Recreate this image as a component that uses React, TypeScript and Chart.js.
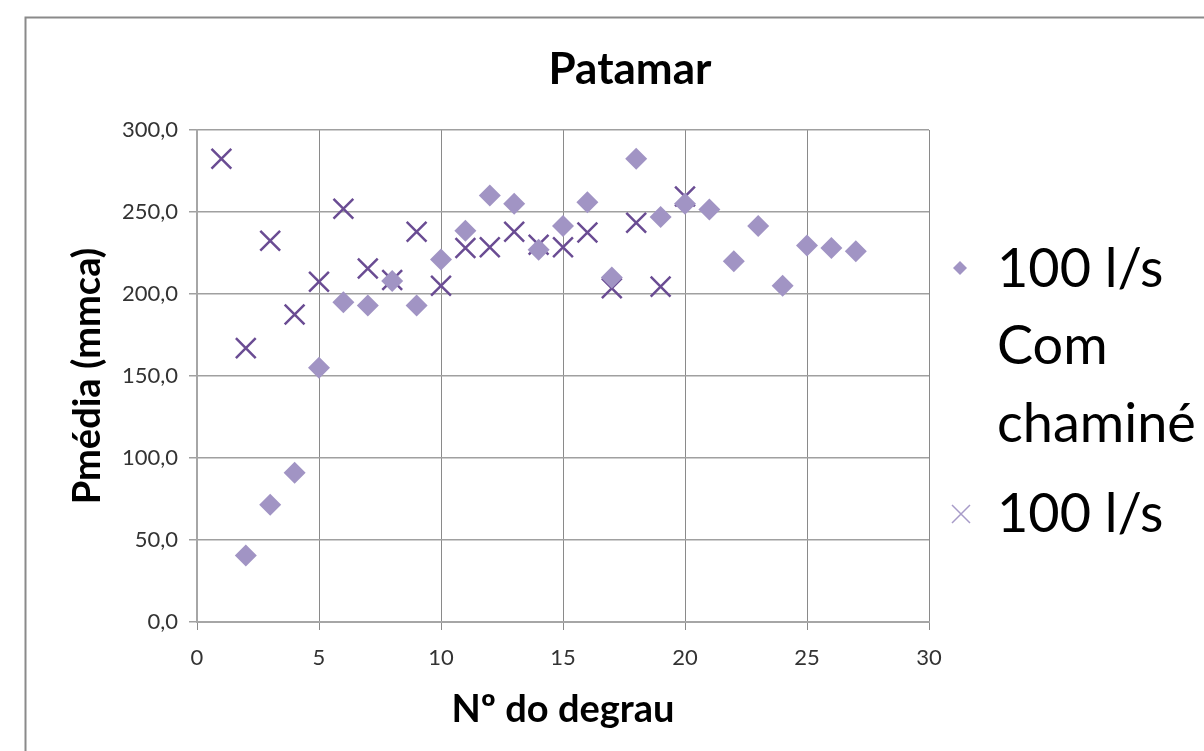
import { useEffect, useRef } from "react";
import { Chart, registerables } from "chart.js";

Chart.register(...registerables);

const chartTitle = "Patamar";
const xAxisTitle = "Nº do degrau";
const yAxisTitle = "Pmédia (mmca)";

const chimneySteps = [2, 3, 4, 5, 6, 7, 8, 9, 10, 11, 12, 13, 14, 15, 16, 17, 18, 19, 20, 21, 22, 23, 24, 25, 26, 27];
const chimneyPressure = [40.5, 71.5, 91, 155, 195, 193, 208, 193, 221, 238.5, 260, 255, 227, 241.5, 256, 210, 282.5, 247, 255, 251.5, 220, 241.5, 205, 229.5, 228, 226];

const plainSteps = [1, 2, 3, 4, 5, 6, 7, 8, 9, 10, 11, 12, 13, 14, 15, 16, 17, 18, 19, 20];
const plainPressure = [282.5, 167, 232.5, 187.5, 207.5, 252, 215.5, 208.5, 238, 205, 228, 228.5, 238, 230, 228.5, 237.5, 203.5, 243.5, 204.5, 259.5];

const xTicks = [0, 5, 10, 15, 20, 25, 30];
const yTicks = [0, 50, 100, 150, 200, 250, 300];

const legendChimney = ["100 l/s", "Com", "chaminé"];
const legendPlain = ["100 l/s"];

const DIAMOND_COLOR = "#A194C4";
const CROSS_COLOR = "#6A4C93";
const FONT = "Lato, 'Open Sans', sans-serif";

const decorPlugin = {
  id: "decor",
  beforeDraw(chart: any) {
    const ctx = chart.ctx;
    ctx.save();
    ctx.fillStyle = "#ffffff";
    ctx.fillRect(0, 0, chart.width, chart.height);
    ctx.strokeStyle = "#8a8a8a";
    ctx.lineWidth = 2;
    ctx.beginPath();
    ctx.moveTo(25.5, chart.height + 5);
    ctx.lineTo(25.5, 17.5);
    ctx.lineTo(chart.width + 5, 17.5);
    ctx.stroke();
    ctx.restore();
  },
  afterDraw(chart: any) {
    const ctx = chart.ctx;
    ctx.save();
    ctx.fillStyle = "#000000";
    ctx.textAlign = "center";
    ctx.textBaseline = "middle";
    ctx.font = `bold 44px ${FONT}`;
    ctx.fillText(chartTitle, 630, 70);

    ctx.textAlign = "left";
    ctx.font = `54px ${FONT}`;
    const ys1 = [270, 347, 425];
    legendChimney.forEach((t, i) => ctx.fillText(t, 997, ys1[i]));
    legendPlain.forEach((t) => ctx.fillText(t, 997, 515));

    // legend markers
    ctx.fillStyle = DIAMOND_COLOR;
    ctx.beginPath();
    ctx.moveTo(960, 261);
    ctx.lineTo(967, 268);
    ctx.lineTo(960, 275);
    ctx.lineTo(953, 268);
    ctx.closePath();
    ctx.fill();

    ctx.strokeStyle = "#A79BC8";
    ctx.lineWidth = 1.5;
    ctx.beginPath();
    ctx.moveTo(952, 505);
    ctx.lineTo(970, 523);
    ctx.moveTo(970, 505);
    ctx.lineTo(952, 523);
    ctx.stroke();
    ctx.restore();
  },
};

export default function App() {
  const canvasRef = useRef<HTMLCanvasElement | null>(null);

  useEffect(() => {
    if (!canvasRef.current) return;
    const chart = new Chart(canvasRef.current, {
      type: "scatter",
      data: {
        datasets: [
          {
            label: legendChimney.join(" "),
            data: chimneySteps.map((x, i) => ({ x, y: chimneyPressure[i] })),
            pointStyle: "rectRot",
            pointRadius: 11,
            backgroundColor: DIAMOND_COLOR,
            borderColor: DIAMOND_COLOR,
            borderWidth: 0,
          },
          {
            label: legendPlain.join(" "),
            data: plainSteps.map((x, i) => ({ x, y: plainPressure[i] })),
            pointStyle: "crossRot",
            pointRadius: 14,
            backgroundColor: CROSS_COLOR,
            borderColor: CROSS_COLOR,
            borderWidth: 2.5,
          },
        ],
      },
      options: {
        animation: false,
        responsive: false,
        layout: { padding: { left: 61, top: 130, right: 275, bottom: 14 } },
        plugins: {
          legend: { display: false },
          title: { display: false },
          tooltip: { enabled: false },
        },
        scales: {
          x: {
            type: "linear",
            min: 0,
            max: 30,
            afterBuildTicks: (scale: any) => {
              scale.ticks = xTicks.map((v) => ({ value: v }));
            },
            afterFit: (scale: any) => {
              scale.height = 115;
            },
            ticks: {
              padding: 15,
              color: "#333333",
              font: { family: FONT, size: 22 },
              maxRotation: 0,
            },
            grid: { color: "#8a8a8a", lineWidth: 1, tickLength: 8 },
            border: { color: "#a6a6a6", width: 2 },
            title: {
              display: true,
              text: xAxisTitle,
              color: "#000000",
              font: { family: FONT, size: 38, weight: "bold" },
              padding: { top: 4, bottom: 4 },
            },
          },
          y: {
            type: "linear",
            min: 0,
            max: 300,
            afterBuildTicks: (scale: any) => {
              scale.ticks = yTicks.map((v) => ({ value: v }));
            },
            afterFit: (scale: any) => {
              scale.width = 136;
            },
            ticks: {
              padding: 11,
              color: "#333333",
              font: { family: FONT, size: 22 },
              callback: (v: any) => Number(v).toFixed(1).replace(".", ","),
            },
            grid: { color: "#a0a0a0", lineWidth: 1.5, tickLength: 8 },
            border: { color: "#a6a6a6", width: 2 },
            title: {
              display: true,
              text: yAxisTitle,
              color: "#000000",
              font: { family: FONT, size: 38, weight: "bold" },
              padding: { top: 4, bottom: 4 },
            },
          },
        },
      },
      plugins: [decorPlugin],
    });
    return () => chart.destroy();
  }, []);

  return (
    <div style={{ position: "fixed", left: 0, top: 0, width: 1204, height: 751, background: "#fff" }}>
      <canvas ref={canvasRef} width={1204} height={751} style={{ display: "block", width: 1204, height: 751 }} />
    </div>
  );
}
